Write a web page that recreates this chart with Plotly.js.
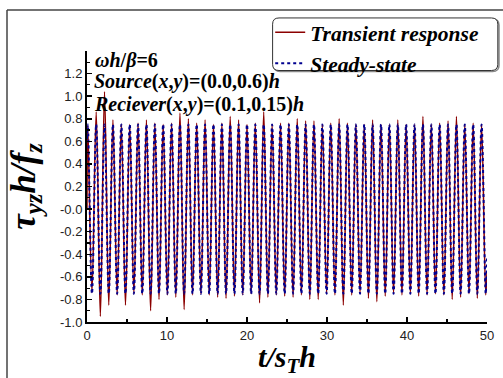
<!DOCTYPE html>
<html>
<head>
<meta charset="utf-8">
<script src="https://cdn.plot.ly/plotly-3.0.1.min.js"></script>
<style>html,body{margin:0;padding:0;background:#fff;}#chart{width:503px;height:378px;}</style>
</head>
<body>
<div id="chart"></div>
<script>
// Times (t/s_T h) of the successive peaks and troughs
const peakTimes = [0.10, 1.15, 2.19, 3.24, 4.29, 5.34, 6.38, 7.43, 8.48, 9.52, 10.57, 11.62, 12.67, 13.71, 14.76, 15.81,
  16.86, 17.90, 18.95, 20.00, 21.04, 22.09, 23.14, 24.19, 25.23, 26.28, 27.33, 28.37, 29.42, 30.47, 31.52, 32.56,
  33.61, 34.66, 35.70, 36.75, 37.80, 38.85, 39.89, 40.94, 41.99, 43.04, 44.08, 45.13, 46.18, 47.22, 48.27, 49.32];
const troughTimes = [0.62, 1.67, 2.72, 3.77, 4.81, 5.86, 6.91, 7.95, 9.00, 10.05, 11.10, 12.14, 13.19, 14.24, 15.28, 16.33,
  17.38, 18.43, 19.47, 20.52, 21.57, 22.61, 23.66, 24.71, 25.76, 26.80, 27.85, 28.90, 29.95, 30.99, 32.04, 33.09,
  34.13, 35.18, 36.23, 37.28, 38.32, 39.37, 40.42, 41.46, 42.51, 43.56, 44.61, 45.65, 46.70, 47.75, 48.79, 49.84];
const startTime = 0;
const endTime = 50;

// Transient response: peak and trough values
const transientPeaks = [0.74, 0.86, 1.04, 0.79, 0.75, 0.75, 0.76, 0.79, 0.76, 0.75, 0.76, 0.85, 0.80, 0.76, 0.79, 0.75,
  0.76, 0.82, 0.79, 0.75, 0.76, 0.86, 0.75, 0.76, 0.76, 0.80, 0.78, 0.78, 0.75, 0.76, 0.80, 0.76,
  0.75, 0.75, 0.79, 0.75, 0.75, 0.79, 0.75, 0.75, 0.82, 0.75, 0.76, 0.78, 0.82, 0.75, 0.76, 0.75];
const transientTroughs = [-0.74, -0.95, -0.85, -0.76, -0.85, -0.75, -0.76, -0.90, -0.80, -0.76, -0.78, -0.89, -0.76, -0.75, -0.76, -0.78,
  -0.79, -0.77, -0.76, -0.75, -0.83, -0.78, -0.76, -0.77, -0.78, -0.76, -0.80, -0.80, -0.75, -0.76, -0.85, -0.76,
  -0.75, -0.79, -0.82, -0.77, -0.75, -0.76, -0.75, -0.77, -0.76, -0.75, -0.76, -0.80, -0.78, -0.75, -0.79, -0.76];
const transientStart = 0.0;
const transientEnd = -0.55;

// Steady-state: peak and trough values
const steadyPeaks = [0.75, 0.75, 0.75, 0.75, 0.75, 0.75, 0.75, 0.75, 0.75, 0.75, 0.75, 0.75, 0.75, 0.75, 0.75, 0.75,
  0.75, 0.75, 0.75, 0.75, 0.75, 0.75, 0.75, 0.75, 0.75, 0.75, 0.75, 0.75, 0.75, 0.75, 0.75, 0.75,
  0.75, 0.75, 0.75, 0.75, 0.75, 0.75, 0.75, 0.75, 0.75, 0.75, 0.75, 0.75, 0.75, 0.75, 0.75, 0.75];
const steadyTroughs = [-0.75, -0.75, -0.75, -0.75, -0.75, -0.75, -0.75, -0.75, -0.75, -0.75, -0.75, -0.75, -0.75, -0.75, -0.75, -0.75,
  -0.75, -0.75, -0.75, -0.75, -0.75, -0.75, -0.75, -0.75, -0.75, -0.75, -0.75, -0.75, -0.75, -0.75, -0.75, -0.75,
  -0.75, -0.75, -0.75, -0.75, -0.75, -0.75, -0.75, -0.75, -0.75, -0.75, -0.75, -0.75, -0.75, -0.75, -0.75, -0.75];
const steadyStart = 0.62;
const steadyEnd = -0.43;

const xTickVals = [0, 10, 20, 30, 40, 50];
const yTickVals = [-1.0, -0.8, -0.6, -0.4, -0.2, 0.0, 0.2, 0.4, 0.6, 0.8, 1.0, 1.2];
const yTickText = ['-1.0', '-0.8', '-0.6', '-0.4', '-0.2', '-0.0', '0.2', '0.4', '0.6', '0.8', '1.0', '1.2'];

function build(start, peaks, troughs, end) {
  const x = [startTime], y = [start];
  for (let i = 0; i < peakTimes.length; i++) {
    x.push(peakTimes[i]); y.push(peaks[i]);
    x.push(troughTimes[i]); y.push(troughs[i]);
  }
  x.push(endTime); y.push(end);
  return {x, y};
}
const tr = build(transientStart, transientPeaks, transientTroughs, transientEnd);
const st = build(steadyStart, steadyPeaks, steadyTroughs, steadyEnd);

const serif = 'Liberation Serif, Times New Roman, serif';
const data = [
  {x: tr.x, y: tr.y, type: 'scatter', mode: 'lines', name: 'Transient response', legendgroup: 'a',
   line: {color: '#8b0000', width: 1.5, shape: 'spline'}},
  {x: st.x, y: st.y, type: 'scatter', mode: 'lines', name: 'Steady-state', legendgroup: 'b',
   line: {color: '#000090', width: 2, dash: 'dot', shape: 'spline'}}
];

// legend box (rounded) in paper coordinates
const x0 = 0.464, x1 = 1.027, y0 = 0.928, y1 = 1.122, rx = 0.016, ry = 0.023;
function rpath(dx, dy) {
  const a = x0 + dx, b = x1 + dx, c = y0 + dy, d = y1 + dy;
  return `M ${a+rx},${d} L ${b-rx},${d} Q ${b},${d} ${b},${d-ry} L ${b},${c+ry} Q ${b},${c} ${b-rx},${c} L ${a+rx},${c} Q ${a},${c} ${a},${c+ry} L ${a},${d-ry} Q ${a},${d} ${a+rx},${d} Z`;
}

const layout = {
  width: 503, height: 378,
  margin: {l: 87, r: 16, t: 48, b: 56},
  paper_bgcolor: '#fff', plot_bgcolor: '#fff',
  showlegend: true,
  legend: {x: 0.458, y: 1.145, xanchor: 'left', yanchor: 'top', bgcolor: 'rgba(0,0,0,0)', borderwidth: 0,
    traceorder: 'grouped', tracegroupgap: 0,
    font: {family: serif, size: 21.5, color: '#000', weight: 'bold', style: 'italic'}},
  xaxis: {range: [0, 50], tickmode: 'array', tickvals: xTickVals, ticks: 'inside', ticklen: 5, tickwidth: 1.5,
    tickcolor: '#000', showline: true, linecolor: '#000', linewidth: 2, showgrid: false, zeroline: false,
    tickfont: {family: 'Liberation Sans, Arial, sans-serif', size: 13, color: '#222'},
    minor: {tickmode: 'linear', tick0: 0, dtick: 5, ticks: 'inside', ticklen: 3, tickwidth: 1.2, tickcolor: '#000', showgrid: false},
    title: {text: '<i>t</i>/<i>s</i><sub><i>T</i></sub><i>h</i>', standoff: 4,
      font: {family: serif, size: 30, color: '#000', weight: 'bold', style: 'italic'}}},
  yaxis: {range: [-1, 1.4], tickmode: 'array', tickvals: yTickVals, ticktext: yTickText, ticks: 'inside', ticklen: 5,
    tickwidth: 1.5, tickcolor: '#000', showline: true, linecolor: '#000', linewidth: 2, showgrid: false, zeroline: false,
    tickfont: {family: 'Liberation Sans, Arial, sans-serif', size: 13, color: '#222'},
    minor: {tickmode: 'linear', tick0: -1, dtick: 0.1, ticks: 'inside', ticklen: 3, tickwidth: 1.2, tickcolor: '#000', showgrid: false},
    title: {text: '<i>τ</i><sub><i>yz</i></sub><i>h</i>/<i>f</i><sub><i>z</i></sub>', standoff: 14,
      font: {family: serif, size: 35, color: '#000', weight: 'bold', style: 'italic'}}},
  annotations: [
    {xref: 'paper', yref: 'paper', x: 0.015, y: 0.965, xanchor: 'left', yanchor: 'middle', showarrow: false,
     text: '<i>ωh</i>/<i>β</i>=6', font: {family: serif, size: 20, color: '#000', weight: 'bold'}},
    {xref: 'paper', yref: 'paper', x: 0.012, y: 0.887, xanchor: 'left', yanchor: 'middle', showarrow: false,
     text: '<i>Source</i>(<i>x</i>,<i>y</i>)=(0.0,0.6)<i>h</i>', font: {family: serif, size: 20, color: '#000', weight: 'bold'}},
    {xref: 'paper', yref: 'paper', x: 0.012, y: 0.802, xanchor: 'left', yanchor: 'middle', showarrow: false,
     text: '<i>Reciever</i>(<i>x</i>,<i>y</i>)=(0.1,0.15)<i>h</i>', font: {family: serif, size: 20, color: '#000', weight: 'bold'}}
  ],
  shapes: [
    {type: 'line', xref: 'paper', yref: 'paper', x0: -0.2, x1: 1.05, y0: 1.151, y1: 1.151, line: {color: '#444', width: 1.5}},
    {type: 'line', xref: 'paper', yref: 'paper', x0: -0.2, x1: -0.2, y0: 1.151, y1: -0.25, line: {color: '#444', width: 1.5}},
    {type: 'path', xref: 'paper', yref: 'paper', path: rpath(0.003, -0.004), line: {color: '#888', width: 1.5}},
    {type: 'path', xref: 'paper', yref: 'paper', path: rpath(0, 0), line: {color: '#333', width: 1}, fillcolor: '#fff'}
  ]
};

Plotly.newPlot('chart', data, layout, {displayModeBar: false, staticPlot: true});
</script>
</body>
</html>
